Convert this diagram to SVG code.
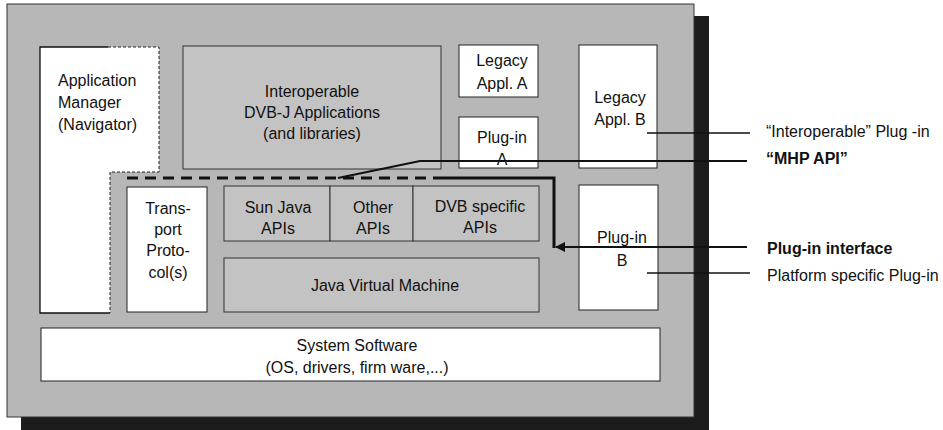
<svg xmlns="http://www.w3.org/2000/svg" width="943" height="430" viewBox="0 0 943 430">
<style>
text{font-family:"Liberation Sans",Arial,sans-serif;font-size:16px;fill:#111}
.c{text-anchor:middle}
.b{font-weight:bold}
.wbox{fill:#fff;stroke:#222;stroke-width:1}
.gbox{fill:#c3c3c3;stroke:#333;stroke-width:1}
.thin{stroke:#111;stroke-width:1.3;fill:none}
.thick{stroke:#111;stroke-width:2.2;fill:none}
</style>
<defs>
<marker id="arr" markerWidth="10" markerHeight="10" refX="9" refY="5" orient="auto" markerUnits="userSpaceOnUse">
<path d="M0,0 L10,5 L0,10 Z" fill="#111"/>
</marker>
</defs>
<rect width="943" height="430" fill="#fff"/>
<g id="frame">
<rect x="21" y="16" width="688" height="414" fill="#1c1c1c"/>
<rect x="7" y="4" width="687" height="413" fill="#b7b7b7" stroke="#333" stroke-width="1"/>
</g>
<g id="app-manager">
<path d="M40,47 H159 V172 H110 V313 H40 Z" fill="#fff"/>
<path d="M108,47 H40 V313 H110" class="thin" stroke-width="1"/>
<path d="M108,47 H159 V172 H110 V313" fill="none" stroke="#222" stroke-width="1" stroke-dasharray="3 2"/>
<text x="58" y="86">Application</text>
<text x="58" y="108">Manager</text>
<text x="58" y="130">(Navigator)</text>
</g>
<g id="interop-apps">
<rect x="183" y="46" width="258" height="123" class="gbox"/>
<text class="c" x="312" y="97">Interoperable</text>
<text class="c" x="312" y="118">DVB-J Applications</text>
<text class="c" x="312" y="139">(and libraries)</text>
</g>
<g id="legacy-a">
<rect x="459" y="45" width="79" height="52" class="wbox"/>
<text class="c" x="502" y="66">Legacy</text>
<text class="c" x="502" y="89">Appl. A</text>
</g>
<g id="plugin-a">
<rect x="459" y="117" width="79" height="51" class="wbox"/>
<text class="c" x="502" y="143">Plug-in</text>
<text class="c" x="502" y="165">A</text>
</g>
<g id="legacy-b">
<rect x="579" y="45" width="78" height="123" class="wbox"/>
<text class="c" x="620" y="103">Legacy</text>
<text class="c" x="620" y="125">Appl. B</text>
</g>
<g id="plugin-b">
<rect x="579" y="185" width="79" height="125" class="wbox"/>
<text class="c" x="622" y="243">Plug-in</text>
<text class="c" x="622" y="266">B</text>
</g>
<g id="transport">
<rect x="127" y="187" width="80" height="125" class="wbox"/>
<text class="c" x="168" y="214">Trans-</text>
<text class="c" x="168" y="235">port</text>
<text class="c" x="168" y="256">Proto-</text>
<text class="c" x="168" y="278">col(s)</text>
</g>
<g id="sun-java">
<rect x="224" y="186" width="106" height="55" class="gbox"/>
<text class="c" x="278" y="213">Sun Java</text>
<text class="c" x="278" y="234">APIs</text>
</g>
<g id="other-apis">
<rect x="330" y="186" width="83" height="55" class="gbox"/>
<text class="c" x="373" y="213">Other</text>
<text class="c" x="373" y="234">APIs</text>
</g>
<g id="dvb-apis">
<rect x="413" y="186" width="126" height="55" class="gbox"/>
<text class="c" x="480" y="212">DVB specific</text>
<text class="c" x="480" y="233">APIs</text>
</g>
<g id="jvm">
<rect x="224" y="258" width="315" height="54" class="gbox"/>
<text class="c" x="385" y="291">Java Virtual Machine</text>
</g>
<g id="system-software">
<rect x="41" y="328" width="619" height="53" class="wbox"/>
<text class="c" x="357" y="351">System Software</text>
<text class="c" x="357" y="373">(OS, drivers, firm ware,...)</text>
</g>
<g id="connectors">
<path d="M127,178 H433" stroke="#111" stroke-width="3" stroke-dasharray="11 7" fill="none"/>
<path d="M433,178 H554 V248" stroke="#111" stroke-width="3" fill="none"/>
<path d="M338,178 L420,161 H747" class="thick"/>
<path d="M647,133 H750" class="thin"/>
<path d="M747,247 H556" class="thick" marker-end="url(#arr)"/>
<path d="M647,273 H750" class="thin"/>
</g>
<g id="labels">
<text x="766" y="137">“Interoperable” Plug -in</text>
<text class="b" x="766" y="164">“MHP API”</text>
<text class="b" x="767" y="254">Plug-in interface</text>
<text x="767" y="281">Platform specific Plug-in</text>
</g>
</svg>
